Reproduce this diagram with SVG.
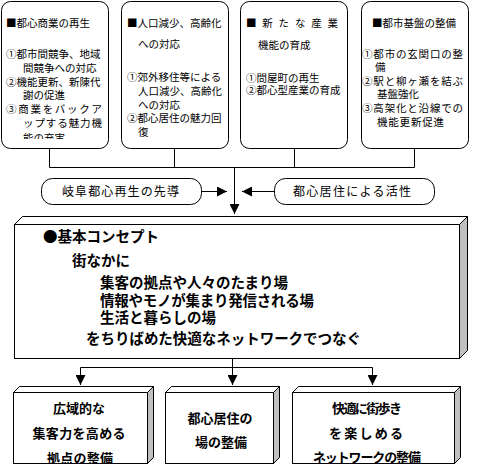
<svg xmlns="http://www.w3.org/2000/svg" width="479" height="466" viewBox="0 0 479 466">
<style>
  .bg { fill: #ffffff; }
  .box { fill: #ffffff; stroke: #000000; stroke-width: 1; }
  .side { fill: #c0c0c0; stroke: #000000; stroke-width: 1; }
  .ln { fill: none; stroke: #000000; stroke-width: 1; }
  .t { font-family: "Noto Sans CJK JP", "Noto Sans CJK SC", sans-serif; font-size: 10.5px; fill: #000000; }
  .p { font-family: "Noto Sans CJK JP", "Noto Sans CJK SC", sans-serif; font-size: 12px; fill: #000000; }
  .c { font-family: "Noto Sans CJK JP", "Noto Sans CJK SC", sans-serif; font-size: 14.5px; font-weight: bold; fill: #000000; }
  .b { font-family: "Noto Sans CJK JP", "Noto Sans CJK SC", sans-serif; font-size: 13px; font-weight: bold; fill: #000000; text-anchor: middle; }
</style>
<defs>
  <marker id="ah" markerUnits="userSpaceOnUse" markerWidth="10" markerHeight="10" refX="10" refY="5" orient="auto">
    <path d="M0,0 L10,5 L0,10 Z" fill="#000000"/>
  </marker>
  <clipPath id="clip1"><rect x="0" y="0" width="110" height="139"/></clipPath>
  <clipPath id="clipB1"><rect x="13" y="392" width="134" height="71"/></clipPath>
  <clipPath id="clipB3"><rect x="292" y="392" width="162" height="71"/></clipPath>
</defs>
<rect class="bg" x="0" y="0" width="479" height="466"/>

<g id="connectors">
  <path class="ln" d="M49.5,148 V167.5 M174.5,148 V167.5 M294.5,148 V167.5 M414.5,148 V167.5 M49.5,167.5 H414.5"/>
  <line class="ln" x1="234.5" y1="167.5" x2="234.5" y2="214" marker-end="url(#ah)"/>
  <line class="ln" x1="202" y1="191.5" x2="227" y2="191.5" marker-end="url(#ah)"/>
  <line class="ln" x1="274" y1="191.5" x2="242" y2="191.5" marker-end="url(#ah)"/>
  <path class="ln" d="M232.5,358 V367.5 M80.5,367.5 H372.5"/>
  <line class="ln" x1="80.5" y1="367.5" x2="80.5" y2="385" marker-end="url(#ah)"/>
  <line class="ln" x1="232.5" y1="367.5" x2="232.5" y2="385" marker-end="url(#ah)"/>
  <line class="ln" x1="372.5" y1="367.5" x2="372.5" y2="385" marker-end="url(#ah)"/>
</g>

<g id="box-commerce">
  <rect class="box" x="1.5" y="1.5" width="107" height="147" rx="9" ry="9"/>
  <g clip-path="url(#clip1)">
    <text class="t" x="6" y="27">■都心商業の再生</text>
    <text class="t" x="6" y="58">①都市間競争、地域</text>
    <text class="t" x="23" y="72">間競争への対応</text>
    <text class="t" x="6" y="86">②機能更新、新陳代</text>
    <text class="t" x="23" y="99">謝の促進</text>
    <text class="t" x="6" y="113" textLength="96" lengthAdjust="spacing">③商業をバックア</text>
    <text class="t" x="23" y="127" textLength="79" lengthAdjust="spacing">ップする魅力機</text>
    <text class="t" x="23" y="142">能の充実</text>
  </g>
</g>

<g id="box-population">
  <rect class="box" x="121.5" y="1.5" width="107" height="147" rx="9" ry="9"/>
  <text class="t" x="127" y="27">■人口減少、高齢化</text>
  <text class="t" x="138" y="48">への対応</text>
  <text class="t" x="127" y="81">①郊外移住等による</text>
  <text class="t" x="138" y="95">人口減少、高齢化</text>
  <text class="t" x="138" y="109">への対応</text>
  <text class="t" x="127" y="122">②都心居住の魅力回</text>
  <text class="t" x="138" y="136">復</text>
</g>

<g id="box-industry">
  <rect class="box" x="240.5" y="1.5" width="107" height="147" rx="9" ry="9"/>
  <text class="t" x="246" y="27" textLength="92" lengthAdjust="spacing">■ 新 た な 産 業</text>
  <text class="t" x="258" y="49">機能の育成</text>
  <text class="t" x="246" y="82">①問屋町の再生</text>
  <text class="t" x="246" y="94">②都心型産業の育成</text>
</g>

<g id="box-infrastructure">
  <rect class="box" x="361.5" y="1.5" width="107" height="147" rx="9" ry="9"/>
  <text class="t" x="372" y="27">■都市基盤の整備</text>
  <text class="t" x="362" y="58" textLength="101" lengthAdjust="spacing">①都市の玄関口の整</text>
  <text class="t" x="375" y="71">備</text>
  <text class="t" x="362" y="85" textLength="101" lengthAdjust="spacing">②駅と柳ヶ瀬を結ぶ</text>
  <text class="t" x="377" y="98">基盤強化</text>
  <text class="t" x="362" y="112" textLength="101" lengthAdjust="spacing">③高架化と沿線での</text>
  <text class="t" x="377" y="126" textLength="67" lengthAdjust="spacing">機能更新促進</text>
</g>

<g id="pill-lead">
  <rect class="box" x="41.5" y="178.5" width="160" height="26" rx="11" ry="11"/>
  <text class="p" x="62" y="196" textLength="117" lengthAdjust="spacing">岐阜都心再生の先導</text>
</g>

<g id="pill-residence">
  <rect class="box" x="274.5" y="178.5" width="160" height="26" rx="11" ry="11"/>
  <text class="p" x="293" y="196" textLength="118" lengthAdjust="spacing">都心居住による活性</text>
</g>

<g id="concept">
  <polygon class="box" points="14.5,224.5 22.5,216.5 467.5,216.5 459.5,224.5"/>
  <polygon class="side" points="459.5,224.5 467.5,216.5 467.5,350.5 459.5,358.5"/>
  <rect class="box" x="14.5" y="224.5" width="445" height="134"/>
  <text class="c" x="43" y="242">●基本コンセプト</text>
  <text class="c" x="72" y="266">街なかに</text>
  <text class="c" x="100" y="288" textLength="188" lengthAdjust="spacing">集客の拠点や人々のたまり場</text>
  <text class="c" x="100" y="306" textLength="214" lengthAdjust="spacing">情報やモノが集まり発信される場</text>
  <text class="c" x="100" y="323">生活と暮らしの場</text>
  <text class="c" x="86" y="344" textLength="275" lengthAdjust="spacing">をちりばめた快適なネットワークでつなぐ</text>
</g>

<g id="out-hub">
  <polygon class="box" points="13.5,392.5 19.5,386.5 153.5,386.5 147.5,392.5"/>
  <polygon class="side" points="147.5,392.5 153.5,386.5 153.5,457.5 147.5,463.5"/>
  <rect class="box" x="13.5" y="392.5" width="134" height="71"/>
  <g clip-path="url(#clipB1)">
    <text class="b" x="79" y="413">広域的な</text>
    <text class="b" x="79" y="438" textLength="93" lengthAdjust="spacing">集客力を高める</text>
    <text class="b" x="80" y="463" textLength="66" lengthAdjust="spacing">拠点の整備</text>
  </g>
</g>

<g id="out-residence">
  <polygon class="box" points="165.5,392.5 171.5,386.5 279.5,386.5 273.5,392.5"/>
  <polygon class="side" points="273.5,392.5 279.5,386.5 279.5,457.5 273.5,463.5"/>
  <rect class="box" x="165.5" y="392.5" width="108" height="71"/>
  <text class="b" x="220" y="423">都心居住の</text>
  <text class="b" x="221" y="447">場の整備</text>
</g>

<g id="out-network">
  <polygon class="box" points="292.5,392.5 298.5,386.5 460.5,386.5 454.5,392.5"/>
  <polygon class="side" points="454.5,392.5 460.5,386.5 460.5,457.5 454.5,463.5"/>
  <rect class="box" x="292.5" y="392.5" width="162" height="71"/>
  <g clip-path="url(#clipB3)">
    <text class="b" x="367" y="413" textLength="70" lengthAdjust="spacing">快適に街歩き</text>
    <text class="b" x="366" y="438" textLength="74" lengthAdjust="spacing">を楽しめる</text>
    <text class="b" x="367" y="462" textLength="108" lengthAdjust="spacing">ネットワークの整備</text>
  </g>
</g>
</svg>
